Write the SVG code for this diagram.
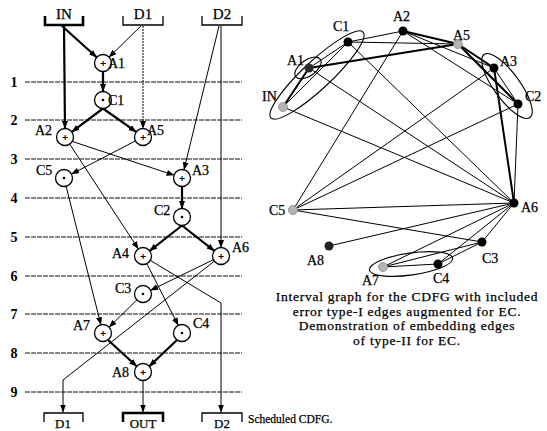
<svg xmlns="http://www.w3.org/2000/svg" width="547" height="431" viewBox="0 0 547 431">
<defs>
<marker id="ar" markerUnits="userSpaceOnUse" markerWidth="8" markerHeight="6" refX="7.5" refY="3" orient="auto">
<path d="M0,0 L8,3 L0,6 z" fill="#000"/>
</marker>
<style>
text{font-family:"Liberation Serif","Times New Roman",serif;fill:#000;stroke:#000;stroke-width:0.25}
.lb{font-size:14px}
.num{font-size:14px;text-anchor:middle;font-weight:bold;stroke-width:0}
.cap{font-size:13.5px;text-anchor:middle;letter-spacing:0.75px}
.io{font-size:15px;text-anchor:middle}
.iob{font-size:13px;text-anchor:middle}
.sym{font-size:10px;text-anchor:middle;stroke-width:0.4}
.e{stroke:#000;stroke-width:1;fill:none}
.t{stroke:#000;stroke-width:2.2;fill:none}
.g{stroke:#111;stroke-width:1;stroke-dasharray:5 1;fill:none}
.br{stroke:#000;stroke-width:1.3;fill:none}
.brt{stroke:#000;stroke-width:2.6;fill:none}
.nd{fill:#fff;stroke:#000;stroke-width:1.3}
.a{marker-end:url(#ar)}
.dk{fill:#000}
.gr{fill:#b4b4b4;stroke:#8a8a8a;stroke-width:0.8}
.el{fill:none;stroke:#000;stroke-width:1.1}
.re{stroke:#000;stroke-width:1;fill:none}
.rt{stroke:#000;stroke-width:2;fill:none}
</style>
</defs>
<rect width="547" height="431" fill="#fff"/>

<!-- schedule grid -->
<g id="grid">
<line class="g" x1="25" y1="82" x2="242" y2="82"/>
<line class="g" x1="25" y1="120" x2="242" y2="120"/>
<line class="g" x1="25" y1="159" x2="242" y2="159"/>
<line class="g" x1="25" y1="198" x2="242" y2="198"/>
<line class="g" x1="25" y1="237" x2="242" y2="237"/>
<line class="g" x1="25" y1="276" x2="242" y2="276"/>
<line class="g" x1="25" y1="314" x2="242" y2="314"/>
<line class="g" x1="25" y1="353" x2="242" y2="353"/>
<line class="g" x1="25" y1="392" x2="242" y2="392"/>
<text class="num" x="14" y="87">1</text>
<text class="num" x="14" y="125">2</text>
<text class="num" x="14" y="164">3</text>
<text class="num" x="14" y="203">4</text>
<text class="num" x="14" y="242">5</text>
<text class="num" x="14" y="281">6</text>
<text class="num" x="14" y="319">7</text>
<text class="num" x="14" y="358">8</text>
<text class="num" x="14" y="397">9</text>
</g>

<!-- left connectors -->
<g id="cdfg-edges">
<line class="t a" x1="62" y1="26" x2="96.7" y2="57.3"/>
<line class="t a" x1="64" y1="26" x2="65" y2="128.5"/>
<line class="e a" x1="141" y1="26" x2="109.1" y2="57.1"/>
<line class="e a" x1="143" y1="26" x2="143" y2="128.5" stroke-dasharray="2 1"/>
<line class="e a" x1="219" y1="26" x2="184" y2="169.7"/>
<line class="e a" x1="221" y1="26" x2="221" y2="247.5"/>
<line class="t a" x1="103" y1="71.5" x2="103" y2="91.5"/>
<line class="t a" x1="103" y1="108.5" x2="71.8" y2="131.9"/>
<line class="t a" x1="103" y1="108.5" x2="136.2" y2="131.9"/>
<line class="e a" x1="71" y1="141" x2="174" y2="175.2"/>
<line class="e a" x1="135.5" y1="140.9" x2="71.5" y2="174.1"/>
<line class="e a" x1="69.7" y1="144.1" x2="138.3" y2="248.9"/>
<line class="t a" x1="182" y1="186.5" x2="182" y2="208.5"/>
<line class="t a" x1="182" y1="225.5" x2="149.7" y2="250.8"/>
<line class="t a" x1="182" y1="225.5" x2="214.3" y2="250.8"/>
<line class="e a" x1="66.1" y1="186.2" x2="100.9" y2="324.8"/>
<line class="e a" x1="146.8" y1="263.6" x2="178.2" y2="325.4"/>
<polyline class="e a" points="150.3,260.4 221,303 221,412"/>
<line class="e a" x1="213.4" y1="259.7" x2="150.6" y2="290.3"/>
<polyline class="e a" points="214.3,261.2 63,380 63,412"/>
<line class="e a" x1="136.9" y1="299.9" x2="109.1" y2="327.1"/>
<line class="t a" x1="108" y1="340" x2="136.7" y2="366.3"/>
<line class="t a" x1="177" y1="340" x2="149.3" y2="366.3"/>
<line class="e a" x1="143" y1="380.5" x2="143" y2="412"/>
</g>

<!-- IO brackets -->
<g id="in-top"><path class="brt" d="M45,16 V25 H83 V16"/><text class="io" x="64" y="19">IN</text></g>
<g id="d1-top"><path class="br" d="M123,16 V25 H163 V16"/><text class="io" x="143" y="19">D1</text></g>
<g id="d2-top"><path class="br" d="M202,16 V25 H242 V16"/><text class="io" x="222" y="19">D2</text></g>
<g id="d1-bot"><path class="br" d="M44,422 V413 H83 V422"/><text class="iob" x="63" y="428">D1</text></g>
<g id="out-bot"><path class="brt" d="M123,422 V413 H163 V422"/><text class="iob" x="143" y="428">OUT</text></g>
<g id="d2-bot"><path class="br" d="M202,422 V413 H242 V422"/><text class="iob" x="222" y="428">D2</text></g>

<!-- CDFG nodes -->
<g id="n-A1"><circle class="nd" cx="103" cy="63" r="8.5"/><text class="sym" x="103" y="66.5">+</text><text class="lb" x="108" y="68">A1</text></g>
<g id="n-C1"><circle class="nd" cx="103" cy="100" r="8.5"/><circle cx="103" cy="100" r="1.3"/><text class="lb" x="108" y="105">C1</text></g>
<g id="n-A2"><circle class="nd" cx="65" cy="137" r="8.5"/><text class="sym" x="65" y="140.5">+</text><text class="lb" x="35" y="135">A2</text></g>
<g id="n-A5"><circle class="nd" cx="143" cy="137" r="8.5"/><text class="sym" x="143" y="140.5">+</text><text class="lb" x="147" y="135">A5</text></g>
<g id="n-C5"><circle class="nd" cx="64" cy="178" r="8.5"/><circle cx="64" cy="178" r="1.3"/><text class="lb" x="36" y="175">C5</text></g>
<g id="n-A3"><circle class="nd" cx="182" cy="178" r="8.5"/><text class="sym" x="182" y="181.5">+</text><text class="lb" x="192" y="175">A3</text></g>
<g id="n-C2"><circle class="nd" cx="182" cy="217" r="8.5"/><circle cx="182" cy="217" r="1.3"/><text class="lb" x="154" y="215">C2</text></g>
<g id="n-A4"><circle class="nd" cx="143" cy="256" r="8.5"/><text class="sym" x="143" y="259.5">+</text><text class="lb" x="112" y="258">A4</text></g>
<g id="n-A6"><circle class="nd" cx="221" cy="256" r="8.5"/><text class="sym" x="221" y="259.5">+</text><text class="lb" x="232" y="252">A6</text></g>
<g id="n-C3"><circle class="nd" cx="143" cy="294" r="8.5"/><circle cx="143" cy="294" r="1.3"/><text class="lb" x="115" y="293">C3</text></g>
<g id="n-A7"><circle class="nd" cx="103" cy="333" r="8.5"/><text class="sym" x="103" y="336.5">+</text><text class="lb" x="73" y="330">A7</text></g>
<g id="n-C4"><circle class="nd" cx="182" cy="333" r="8.5"/><circle cx="182" cy="333" r="1.3"/><text class="lb" x="193" y="328">C4</text></g>
<g id="n-A8"><circle class="nd" cx="143" cy="372" r="8.5"/><text class="sym" x="143" y="375.5">+</text><text class="lb" x="112" y="377">A8</text></g>

<text x="248" y="423" style="font-size:11.5px">Scheduled CDFG.</text>

<!-- interval graph: ellipses -->
<g id="intervals">
<ellipse class="el" cx="317" cy="75" rx="63" ry="14" transform="rotate(-43 317 75)"/>
<ellipse class="el" cx="308" cy="68" rx="15" ry="8" transform="rotate(-35 308 68)"/>
<ellipse class="el" cx="507" cy="86" rx="39" ry="13" transform="rotate(54 507 86)"/>
<ellipse class="el" cx="411" cy="264" rx="42" ry="11" transform="rotate(-8 411 264)"/>
</g>

<!-- interval graph: edges -->
<g id="ig-edges">
<line class="re" x1="283" y1="107" x2="514" y2="203"/>
<line class="re" x1="283" y1="107" x2="348" y2="42"/>
<line class="re" x1="309" y1="68" x2="348" y2="42"/>
<line class="re" x1="309" y1="68" x2="514" y2="203"/>
<line class="re" x1="348" y1="42" x2="403" y2="31"/>
<line class="re" x1="348" y1="42" x2="458" y2="44"/>
<line class="re" x1="348" y1="42" x2="514" y2="203"/>
<line class="re" x1="403" y1="31" x2="293" y2="210"/>
<line class="re" x1="403" y1="31" x2="494" y2="68"/>
<line class="re" x1="403" y1="31" x2="518" y2="104"/>
<line class="re" x1="494" y1="68" x2="293" y2="210"/>
<line class="re" x1="518" y1="104" x2="293" y2="210"/>
<line class="re" x1="494" y1="68" x2="518" y2="104"/>
<line class="re" x1="518" y1="104" x2="514" y2="203"/>
<line class="re" x1="293" y1="210" x2="514" y2="203"/>
<line class="re" x1="293" y1="210" x2="482" y2="242"/>
<line class="re" x1="329" y1="246" x2="514" y2="203"/>
<line class="re" x1="383" y1="267" x2="514" y2="203"/>
<line class="re" x1="383" y1="267" x2="438" y2="264"/>
<line class="re" x1="383" y1="267" x2="482" y2="242"/>
<line class="re" x1="438" y1="264" x2="482" y2="242"/>
<line class="re" x1="438" y1="264" x2="514" y2="203"/>
<line class="re" x1="482" y1="242" x2="514" y2="203"/>
<line class="rt" x1="309" y1="68" x2="458" y2="44"/>
<line class="rt" x1="403" y1="31" x2="458" y2="44"/>
<line class="rt" x1="458" y1="44" x2="494" y2="68"/>
<line class="rt" x1="458" y1="44" x2="518" y2="104"/>
<line class="rt" x1="494" y1="68" x2="514" y2="203"/>
<line class="rt" x1="309" y1="68" x2="283" y2="107"/>
</g>

<!-- interval graph: nodes -->
<g id="g-IN"><circle class="gr" cx="283" cy="107" r="4.5"/><text class="lb" x="262" y="101">IN</text></g>
<g id="g-A1"><circle cx="309" cy="68" r="4.5" fill="#2a2a2a"/><text class="lb" x="287" y="65">A1</text></g>
<g id="g-C1"><circle class="dk" cx="348" cy="42" r="4.5"/><text class="lb" x="333" y="31">C1</text></g>
<g id="g-A2"><circle class="dk" cx="403" cy="31" r="4.5"/><text class="lb" x="393" y="21">A2</text></g>
<g id="g-A5"><circle class="gr" cx="458" cy="44" r="4.5"/><text class="lb" x="453" y="40">A5</text></g>
<g id="g-A3"><circle class="dk" cx="494" cy="68" r="4.5"/><text class="lb" x="500" y="66">A3</text></g>
<g id="g-C2"><circle class="dk" cx="518" cy="104" r="4.5"/><text class="lb" x="525" y="101">C2</text></g>
<g id="g-A6"><circle class="dk" cx="514" cy="203" r="4.5"/><text class="lb" x="521" y="212">A6</text></g>
<g id="g-C5"><circle class="gr" cx="293" cy="210" r="4.5"/><text class="lb" x="269" y="215">C5</text></g>
<g id="g-A8"><circle cx="329" cy="246" r="4.5" fill="#222"/><text class="lb" x="307" y="265">A8</text></g>
<g id="g-C3"><circle class="dk" cx="482" cy="242" r="4.5"/><text class="lb" x="482" y="263">C3</text></g>
<g id="g-C4"><circle class="dk" cx="438" cy="264" r="4.5"/><text class="lb" x="433" y="283">C4</text></g>
<g id="g-A7"><circle class="gr" cx="383" cy="267" r="4.5"/><text class="lb" x="362" y="285">A7</text></g>

<g id="caption">
<text class="cap" x="407" y="301">Interval graph for the CDFG with included</text>
<text class="cap" x="407" y="315.5">error type-I edges augmented for EC.</text>
<text class="cap" x="407" y="330">Demonstration of embedding edges</text>
<text class="cap" x="407" y="344.5">of type-II for EC.</text>
</g>
</svg>
